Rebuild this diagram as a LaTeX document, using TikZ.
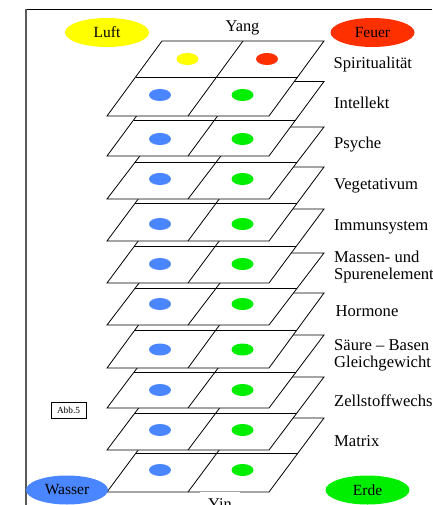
\documentclass[tikz,border=0pt]{standalone}
\usepackage{fontspec}
\setmainfont{Liberation Serif}
\usetikzlibrary{shapes.geometric}
\definecolor{cyellow}{HTML}{FFFF00}
\definecolor{cred}{HTML}{FF3000}
\definecolor{cblue}{HTML}{4A86FF}
\definecolor{cgreen}{HTML}{00EE00}
\tikzset{
  sheet/.style={draw=black, fill=white, line width=0.8pt, line join=miter},
  sheetline/.style={draw=black, line width=0.8pt},
  element/.style={ellipse, inner sep=0pt, minimum width=84pt, minimum height=29pt,
    font=\fontsize{15.5}{18}\selectfont},
  sidelabel/.style={anchor=base west, inner sep=0pt, font=\fontsize{16.6}{19}\selectfont},
  polelabel/.style={inner sep=0pt, font=\fontsize{16.4}{19}\selectfont},
  frameline/.style={draw=black, line width=0.8pt},
}
\begin{document}
\begin{tikzpicture}[x=1pt, y=-1pt]
\useasboundingbox (0,0) rectangle (432,505);
\clip (0,0) rectangle (432,505);
% frame
\draw[frameline] (432,9.3) -- (26,9.3);
\draw[frameline, draw=black!65, line width=1.1pt] (26,9.3) -- (26,505);
% sheets, drawn from the bottom up
\foreach \t/\m/\b/\d in {418/453/492/470, 377/413/450/430, 335/372.5/408/390,
    293/330/368/349.5, 253/288/325/304, 209/246.5/283/264, 167/203/241/224,
    127/162/199/179, 81.5/120/156/139, 41/77/116/95}{
  \pgfmathsetmacro\lm{162-55*(\m-\t)/(\b-\t)}
  \draw[sheet] (162,\t) -- (324,\t) -- (269,\b) -- (107,\b) -- cycle;
  \draw[sheetline] (\lm,\m) -- ({\lm+162},\m);
  \draw[sheetline] (243,\t) -- (188,\b);
  \fill[cblue] (160,\d) ellipse [x radius=11pt, y radius=6pt];
  \fill[cgreen] (242.5,\d) ellipse [x radius=11pt, y radius=6pt];
}
% top dots of the uppermost sheet
\fill[cyellow] (187.5,59) ellipse [x radius=11pt, y radius=6pt];
\fill[cred] (267,59) ellipse [x radius=11pt, y radius=6pt];
% elements
\node[element, fill=cyellow] (luft) at (107,32.5) {Luft};
\node[element, fill=cred] (feuer) at (372.5,32.5) {Feuer};
\node[element, fill=cblue, minimum width=82pt] (wasser) at (67,490) {Wasser};
\node[element, fill=cgreen] (erde) at (367.5,490) {Erde};
% poles
\node[polelabel, anchor=base] (yang) at (242.5,31.5) {Yang};
\node[polelabel, anchor=north, fill=white, minimum width=40pt, inner ysep=6pt] (yin) at (220,492) {Yin};
% side labels
\node[sidelabel] (l1) at (333.5,69) {Spiritualität};
\node[sidelabel] (l2) at (334,108.5) {Intellekt};
\node[sidelabel] (l3) at (334,149) {Psyche};
\node[sidelabel] (l4) at (334,189) {Vegetativum};
\node[sidelabel] (l5) at (334,230) {Immunsystem};
\node[sidelabel] (l6a) at (334,262) {Massen- und};
\node[sidelabel] (l6b) at (334,279) {Spurenelemente};
\node[sidelabel] (l7) at (335.5,316) {Hormone};
\node[sidelabel] (l8a) at (334,350) {Säure – Basen};
\node[sidelabel] (l8b) at (334,367) {Gleichgewicht};
\node[sidelabel] (l9) at (334,406) {Zellstoffwechsel};
\node[sidelabel] (l10) at (334,446.5) {Matrix};
% figure tag
\node[draw=black, line width=0.6pt, minimum width=35pt, minimum height=16pt, inner sep=0pt,
  font=\fontsize{9.3}{11}\selectfont] (abb) at (68.5,410) {Abb.5};
\end{tikzpicture}
\end{document}
